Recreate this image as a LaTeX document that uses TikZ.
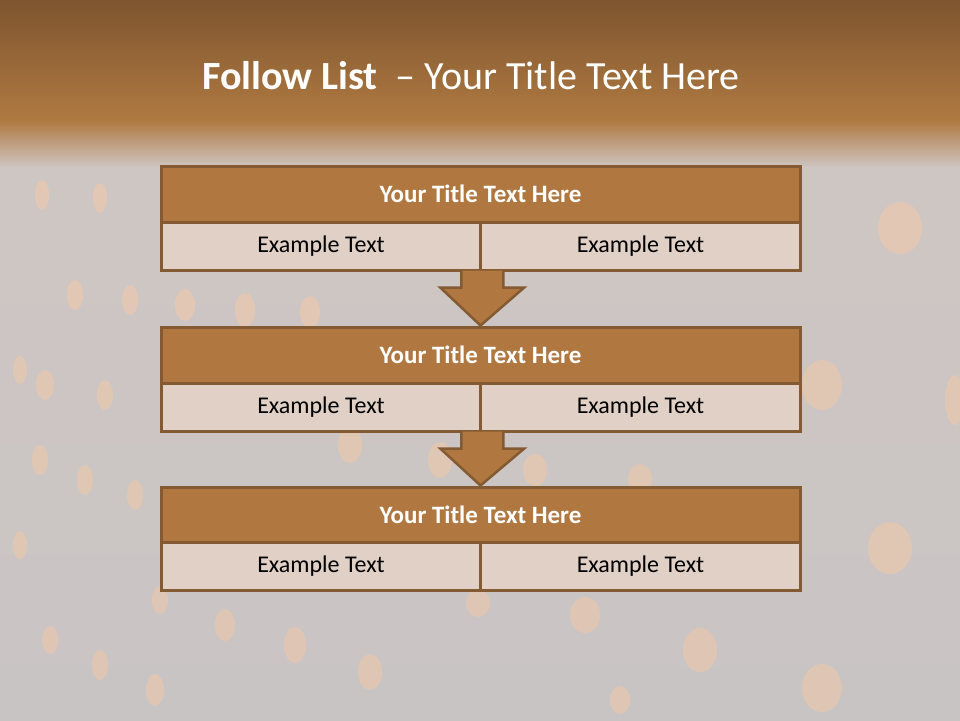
\documentclass[tikz,border=0pt]{standalone}
\usepackage{fontspec}
\setmainfont{Carlito}
\usetikzlibrary{calc}
\definecolor{bar}{HTML}{B07840}
\definecolor{edge}{HTML}{835A32}
\definecolor{cell}{HTML}{E0D0C6}
\definecolor{bgtop}{HTML}{7E552F}
\definecolor{bgmid}{HTML}{B07A42}
\definecolor{bgfade}{HTML}{CEC6C3}
\definecolor{bglow}{HTML}{C9C4C4}
\definecolor{bokeh}{HTML}{F2C9A8}
\begin{document}
\begin{tikzpicture}[x=1pt,y=-1pt,
  titlebar/.style={draw=edge,line width=3pt,fill=bar,minimum width=639pt,minimum height=56pt,inner sep=0pt,text=white,font=\fontsize{25}{30}\selectfont\bfseries},
  cellbox/.style={draw=edge,line width=3pt,fill=cell,minimum width=319.5pt,minimum height=48pt,inner sep=0pt,text=black,font=\fontsize{24}{29}\selectfont},
  blockarrow/.style={draw=edge,line width=2.5pt,fill=bar,line join=miter},
  dot/.style={fill=bokeh,opacity=0.55}]
\useasboundingbox (0,0) rectangle (960,720);
% background
\shade[top color=bgtop,bottom color=bgmid] (0,0) rectangle (960,122);
\shade[top color=bgmid,bottom color=bgfade] (0,121) rectangle (960,168);
\shade[top color=bgfade,bottom color=bglow] (0,167) rectangle (960,720);
% bokeh
\foreach \x/\y/\a/\b in {900/228/22/26,822/385/20/25,955/400/10/25,890/548/22/26,822/688/20/24,700/650/17/22,
  585/615/15/18,478/603/12/14,370/672/12/18,295/645/11/18,225/625/10/16,155/690/9/16,100/665/8/15,50/640/8/14,
  20/545/7/14,45/385/9/15,105/395/8/15,75/295/8/15,130/300/8/15,185/305/10/16,245/310/10/17,40/460/8/15,
  85/480/8/15,135/495/8/15,350/445/12/18,440/460/12/18,535/470/12/16,100/198/7/15,42/195/7/15,20/370/7/14,
  640/480/12/16,310/312/10/16,620/700/10/14,160/600/8/14}
  \fill[dot] (\x,\y) ellipse [x radius=\a, y radius=\b];
% title
\node[text=white,font=\fontsize{40}{48}\selectfont] (title) at (471,76) {\textbf{Follow List}\ \ – Your Title Text Here};
% boxes
\node[titlebar] (t1) at (480.5,194) {Your Title Text Here};
\node[cellbox] (c1a) at (321,246) {Example Text};
\node[cellbox] (c1b) at (640.5,246) {Example Text};
\node[titlebar] (t2) at (480.5,355) {Your Title Text Here};
\node[cellbox] (c2a) at (321,407) {Example Text};
\node[cellbox] (c2b) at (640.5,407) {Example Text};
\node[titlebar] (t3) at (480.5,515) {Your Title Text Here};
\node[cellbox] (c3a) at (321,566) {Example Text};
\node[cellbox] (c3b) at (640.5,566) {Example Text};
% arrows
\draw[blockarrow] ($(c1a.south east)+(-21,-1)$) -- ($(c1a.south east)+(-21,16)$) -- ($(c1a.south east)+(-42,16)$)
  -- (t2.north) -- ($(c1a.south east)+(42,16)$) -- ($(c1a.south east)+(21,16)$) -- ($(c1a.south east)+(21,-1)$);
\draw[blockarrow] ($(c2a.south east)+(-21,-1)$) -- ($(c2a.south east)+(-21,16)$) -- ($(c2a.south east)+(-42,16)$)
  -- (t3.north) -- ($(c2a.south east)+(42,16)$) -- ($(c2a.south east)+(21,16)$) -- ($(c2a.south east)+(21,-1)$);
\end{tikzpicture}
\end{document}
